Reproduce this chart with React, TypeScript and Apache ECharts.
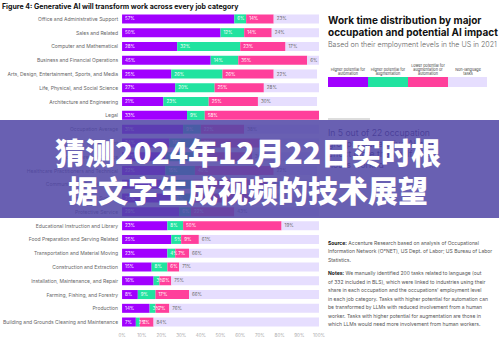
import React, { useEffect, useRef } from "react";
import * as echarts from "echarts";

const categories = [
  "Office and Administrative Support",
  "Sales and Related",
  "Computer and Mathematical",
  "Business and Financial Operations",
  "Arts, Design, Entertainment, Sports, and Media",
  "Life, Physical, and Social Science",
  "Architecture and Engineering",
  "Legal",
  "Occupation Average",
  "Management",
  "Personal Care and Service",
  "Healthcare Practitioners and Technical",
  "Community and Social Service",
  "Healthcare Support",
  "Protective Service",
  "Educational Instruction and Library",
  "Food Preparation and Serving Related",
  "Transportation and Material Moving",
  "Construction and Extraction",
  "Installation, Maintenance, and Repair",
  "Farming, Fishing, and Forestry",
  "Production",
  "Building and Grounds Cleaning and Maintenance",
];

const automation = [57, 50, 28, 45, 25, 27, 21, 33, 31, 24, 22, 22, 20, 25, 29, 23, 25, 23, 15, 16, 8, 14, 7];
const augmentation = [6, 12, 32, 14, 26, 20, 23, 9, 9, 16, 16, 15, 16, 10, 6, 8, 5, 4, 8, 3, 9, 3, 2];
const lowerPotential = [14, 14, 23, 35, 26, 25, 25, 58, 22, 30, 28, 40, 38, 30, 22, 50, 9, 7, 6, 6, 17, 7, 7];
const nonLanguage = [23, 24, 17, 6, 22, 28, 30, 0, 38, 30, 34, 22, 26, 35, 43, 19, 61, 66, 71, 75, 66, 76, 84];

const seriesNames = [
  "Higher potential for automation",
  "Higher potential for augmentation",
  "Lower potential for augmentation or automation",
  "Non-language tasks",
];
const legendLabels = [
  "Higher potential for\nautomation",
  "Higher potential for\naugmentation",
  "Lower potential for\naugmentation or\nautomation",
  "Non-language\ntasks",
];
const colors = ["#a100ff", "#21e3a0", "#ff3f9b", "#e6defe"];
const labelColors = ["#ffffff", "#ffffff", "#ffffff", "#666666"];

const chartTitle = "Figure 4: Generative AI will transform work across every job category";
const panelTitle = ["Work time distribution by major", "occupation and potential AI impact"];
const panelSubtitle = "Based on their employment levels in the US in 2021";
const highlightLines = [
  "In 5 out of 22 occupation",
  "groups, Generative AI can",
  "affect more than half of all",
  "hours worked",
];
const sourceLines = [
  "{b|Source:} Accenture Research based on analysis of Occupational",
  "Information Network (O*NET), US Dept. of Labor; US Bureau of Labor",
  "Statistics.",
];
const notesLines = [
  "{b|Notes:} We manually identified 200 tasks related to language (out",
  "of 332 included in BLS), which were linked to industries using their",
  "share in each occupation and the occupations' employment level",
  "in each job category. Tasks with higher potential for automation can",
  "be transformed by LLMs with reduced involvement from a human",
  "worker. Tasks with higher potential for augmentation are those in",
  "which LLMs would need more involvement from human workers.",
];
const headlineLines = ["猜测2024年12月22日实时根", "据文字生成视频的技术展望"];

export default function App() {
  const ref = useRef<HTMLDivElement>(null);
  useEffect(() => {
    document.body.style.margin = "0";
    const chart = echarts.init(ref.current as HTMLDivElement, null, { renderer: "svg" });
    const font = "Inter";
    const data = [automation, augmentation, lowerPotential, nonLanguage];

    const series = data.map((d, i) => ({
      name: seriesNames[i],
      type: "bar",
      stack: "total",
      data: d,
      barWidth: 9,
      itemStyle: { color: colors[i] },
      emphasis: { disabled: true },
      label: {
        show: true,
        position: "insideLeft",
        distance: 3,
        fontSize: 4.5,
        fontFamily: font,
        color: labelColors[i],
        formatter: (p: any) => (p.value > 0 ? p.value + "%" : ""),
      },
    }));

    const graphic: any[] = [];
    graphic.push({
      type: "text",
      x: 2,
      y: 6,
      style: {
        text: chartTitle,
        fontSize: 7,
        fontWeight: 700,
        fontFamily: font,
        fill: "#111",
        textVerticalAlign: "middle",
      },
    });
    panelTitle.forEach((t, i) =>
      graphic.push({
        type: "text",
        x: 328,
        y: 20 + i * 12,
        style: {
          text: t,
          fontSize: 10,
          fontWeight: 700,
          fontFamily: font,
          fill: "#111",
          textVerticalAlign: "middle",
        },
      })
    );
    graphic.push({
      type: "text",
      x: 328,
      y: 44,
      style: {
        text: panelSubtitle,
        fontSize: 7.1,
        fontWeight: 300,
        fontFamily: font,
        fill: "#666",
        textVerticalAlign: "middle",
      },
    });
    colors.forEach((c, i) => {
      graphic.push({
        type: "rect",
        shape: { x: 328 + i * 40, y: 77, width: i === 3 ? 39 : 40, height: 10 },
        style: { fill: c },
      });
      graphic.push({
        type: "text",
        x: 348 + i * 40,
        y: 76,
        style: {
          text: legendLabels[i],
          fontSize: 3.8,
          lineHeight: 4.4,
          fontFamily: font,
          fill: "#444",
          textAlign: "center",
          textVerticalAlign: "bottom",
        },
      });
    });
    graphic.push({
      type: "line",
      shape: { x1: 328, y1: 119, x2: 370, y2: 119 },
      style: { stroke: "#bbb", lineWidth: 1 },
    });
    highlightLines.forEach((t, i) =>
      graphic.push({
        type: "text",
        x: 328,
        y: 133 + i * 10.7,
        style: {
          text: t,
          fontSize: 8.6,
          fontFamily: font,
          fill: "#2a2250",
          textVerticalAlign: "middle",
        },
      })
    );
    const rich = { b: { fontWeight: 700, fontSize: 5, fontFamily: font, fill: "#111", color: "#111" } };
    sourceLines.forEach((t, i) =>
      graphic.push({
        type: "text",
        x: 328,
        y: 243 + i * 8.3,
        style: {
          text: t,
          rich,
          fontSize: 5,
          fontFamily: font,
          fill: "#555",
          textVerticalAlign: "middle",
        },
      })
    );
    notesLines.forEach((t, i) =>
      graphic.push({
        type: "text",
        x: 328,
        y: 273 + i * 8.5,
        style: {
          text: t,
          rich,
          fontSize: 5,
          fontFamily: font,
          fill: "#555",
          textVerticalAlign: "middle",
        },
      })
    );
    graphic.push({
      type: "rect",
      z: 100,
      shape: { x: 0, y: 120, width: 499, height: 98 },
      style: { fill: "rgba(80,70,165,0.86)" },
    });
    headlineLines.forEach((t, i) =>
      graphic.push({
        type: "text",
        z: 101,
        x: 248,
        y: 151 + i * 38,
        style: {
          text: t,
          fontSize: 30,
          fontWeight: 900,
          fontFamily: "Noto Sans CJK SC",
          fill: "#ffffff",
          textAlign: "center",
          textVerticalAlign: "middle",
        },
      })
    );

    chart.setOption({
      animation: false,
      grid: { left: 114, width: 205, top: 12, height: 318, containLabel: false },
      xAxis: {
        type: "value",
        min: 0,
        max: 100,
        interval: 10,
        axisLine: { show: false },
        axisTick: { show: false },
        splitLine: { show: false },
        axisLabel: { formatter: "{value}%", fontSize: 4.5, color: "#aaa", fontFamily: font, margin: 4 },
      },
      yAxis: {
        type: "category",
        inverse: true,
        data: categories,
        axisLine: { show: false },
        axisTick: { show: false },
        axisLabel: { fontSize: 5, color: "#666", fontFamily: font, margin: 4 },
      },
      series,
      graphic,
    });
    return () => chart.dispose();
  }, []);
  return (
    <div
      ref={ref}
      style={{ position: "absolute", left: 0, top: 0, width: 499, height: 338, background: "#fff" }}
    />
  );
}
